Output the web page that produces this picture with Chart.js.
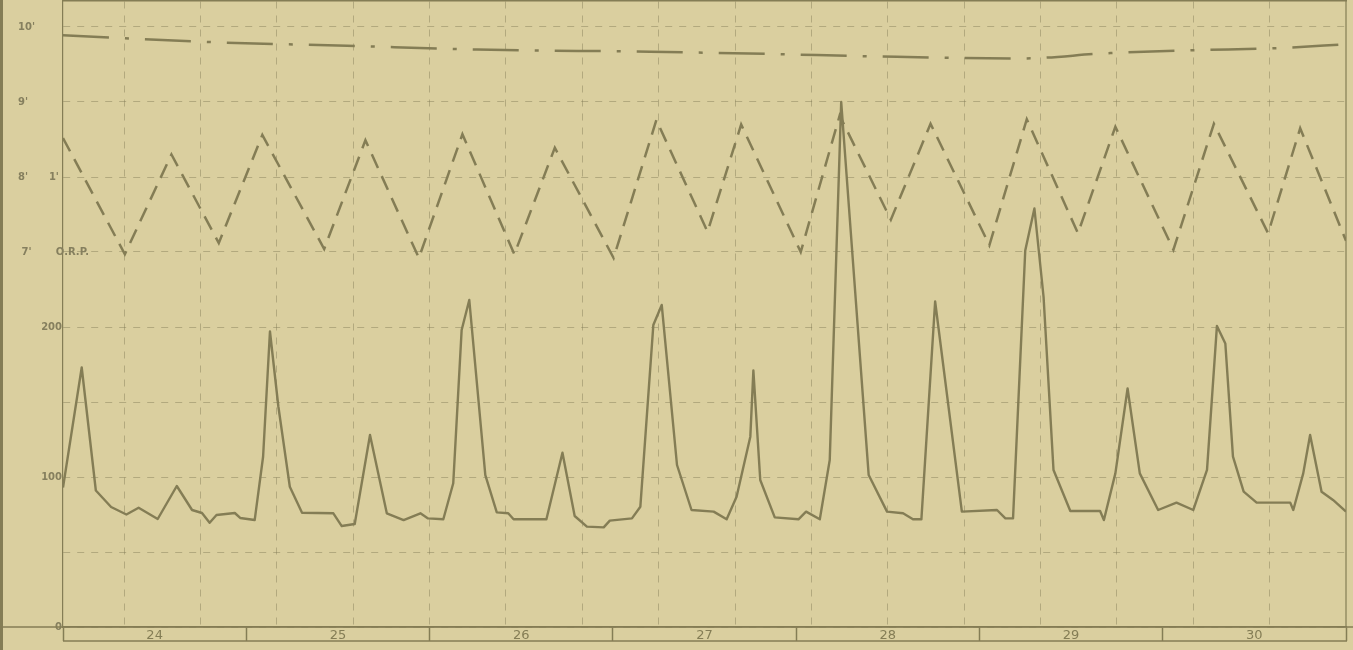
<!DOCTYPE html>
<html>
<head>
<meta charset="utf-8">
<script src="https://cdn.jsdelivr.net/npm/chart.js@4.4.1/dist/chart.umd.min.js"></script>
<style>
  html, body { margin: 0; padding: 0; background: #dacf9f; }
  #wrap { width: 1353px; height: 650px; }
</style>
</head>
<body>
<div id="wrap"><canvas id="c" width="1353" height="650"></canvas></div>
<script>
// ---- data ----
// x values: hours from the start of day 24
const dayLabels = ['24', '25', '26', '27', '28', '29', '30'];

const flowHours = [0,2.45,4.3,6.3,8.3,9.9,12.4,14.9,16.9,18.2,19.2,20.1,22.5,23.2,25.1,26.2,27.1,28.2,29.7,31.3,35.4,36.5,38.2,40.2,42.4,44.6,46.8,47.8,49.8,51.1,52.2,53.2,55.3,56.8,58.3,59.0,63.3,65.4,67.0,68.6,70.8,71.6,74.5,75.6,77.3,78.4,80.4,82.3,85.2,86.9,88.2,90.0,90.4,91.3,93.2,96.3,97.3,99.1,100.4,101.9,105.5,107.9,110.0,111.3,112.4,114.2,117.7,122.3,123.4,124.4,126.0,127.2,128.4,129.7,131.9,135.8,136.3,137.8,139.4,141.0,143.4,145.8,148.0,149.8,151.1,152.2,153.2,154.6,156.3,160.7,161.1,162.4,163.3,164.8,166.3,168];
const flowValues = [93,173,91,80,75,79.5,72,94,78,76,69.5,74.7,76,72.7,71.3,113.5,197,147,93.5,76.2,75.8,67.3,68.7,128,75.8,71.3,75.8,72.4,71.8,95.8,198,218,101.3,76.4,75.8,71.8,71.8,116.2,74,66.9,66.4,70.9,72.4,80.2,201.3,214.7,108,78,76.9,71.8,86.9,126.9,171,98,73.1,71.8,76.9,71.8,111.3,350,101.3,76.9,75.8,71.8,71.8,217,76.9,78,72.4,72.4,251,279,220,104.7,77.3,77.3,71.3,102.4,159,102.4,78,82.9,78,104.7,200.7,189,113.6,90.2,82.9,82.9,78,102.4,128,90.2,84.7,77];

const tideHours = [0,8.1,14.2,20.4,26.1,34.2,39.6,46.6,52.3,59.1,64.4,72.1,77.7,84.4,88.8,96.6,101.7,108.4,113.6,121.3,126.2,132.9,137.8,145.4,150.7,157.8,162.0,168];
const tideFeet  = [8.52,6.97,8.30,7.12,8.56,7.04,8.49,6.92,8.57,6.97,8.39,6.92,8.76,7.27,8.70,7.00,8.82,7.43,8.71,7.09,8.77,7.25,8.67,7.03,8.71,7.25,8.65,7.15];

const upperHours = [0,19.0,37.2,54.2,76.9,93.0,105.4,125.3,136.7,148.0,159.4,168];
const upperFeet  = [9.89,9.80,9.75,9.70,9.67,9.64,9.61,9.58,9.65,9.69,9.72,9.77];

const valueTickLabels = { 0: '0', 100: '100', 200: '200' };
const footTickLabels = { 7: " 7'       O.R.P.", 8: "8'      1'", 9: "9'", 10: "10'" };

// ---- styling ----
const INK = '#847d55';
const TEXT = '#857f5e';
const GRID = 'rgba(128,122,86,0.45)';
const PX_PER_UNIT = 1.5;         // vertical scale of the sheet
const AREA_H = 626;
const yMax = AREA_H / PX_PER_UNIT;
const ftMin = 2, ftPerUnit = 1 / 50;
const ftMax = ftMin + yMax * ftPerUnit;

const toXY = (xs, ys) => xs.map((x, i) => ({ x: x, y: ys[i] }));
const noPad = (s) => { s.paddingTop = 0; s.paddingBottom = 0; };

const paper = {
  id: 'paper',
  beforeDraw(chart) {
    const ctx = chart.ctx;
    ctx.save();
    ctx.fillStyle = '#dacf9f';
    ctx.fillRect(0, 0, chart.width, chart.height);
    ctx.restore();
  },
  afterDraw(chart) {
    const ctx = chart.ctx, a = chart.chartArea, xd = chart.scales.xd;
    ctx.save();
    ctx.strokeStyle = INK;
    // scan edge at left
    ctx.lineWidth = 3;
    ctx.beginPath(); ctx.moveTo(1.5, 0); ctx.lineTo(1.5, chart.height); ctx.stroke();
    // base line across the sheet
    ctx.lineWidth = 1.5;
    ctx.beginPath(); ctx.moveTo(0, a.bottom); ctx.lineTo(chart.width, a.bottom); ctx.stroke();
    // bottom of the day boxes
    ctx.beginPath(); ctx.moveTo(xd.left, a.bottom + 14); ctx.lineTo(xd.right + 1, a.bottom + 14); ctx.stroke();
    // right frame
    ctx.lineWidth = 1.2;
    ctx.beginPath(); ctx.moveTo(a.right, a.top); ctx.lineTo(a.right, a.bottom); ctx.stroke();
    ctx.restore();
  }
};

new Chart(document.getElementById('c'), {
  type: 'line',
  data: {
    datasets: [
      {
        data: toXY(flowHours, flowValues),
        xAxisID: 'x', yAxisID: 'y',
        borderColor: INK, borderWidth: 2.4, pointRadius: 0, tension: 0,
        borderJoinStyle: 'round'
      },
      {
        data: toXY(tideHours, tideFeet),
        xAxisID: 'x', yAxisID: 'yft',
        borderColor: INK, borderWidth: 2.5, pointRadius: 0, tension: 0,
        borderDash: [15, 9]
      },
      {
        data: toXY(upperHours, upperFeet),
        xAxisID: 'x', yAxisID: 'yft',
        borderColor: INK, borderWidth: 2.5, pointRadius: 0,
        cubicInterpolationMode: 'monotone',
        borderDash: [46, 16, 4, 16]
      }
    ]
  },
  options: {
    responsive: false,
    animation: false,
    devicePixelRatio: 1,
    layout: { padding: { left: 17, right: 7, top: 1, bottom: 0 } },
    plugins: { legend: { display: false }, tooltip: { enabled: false } },
    scales: {
      x: {
        type: 'linear', position: 'top', min: 0, max: 168,
        afterBuildTicks: (s) => {
          const t = [];
          for (let v = 8; v < 168; v += 10) t.push({ value: v });
          s.ticks = t;
        },
        afterFit: (s) => { s.height = 0; s.paddingLeft = 0; s.paddingRight = 0; },
        ticks: { display: false },
        grid: { color: GRID, lineWidth: 1, drawTicks: false },
        border: { display: true, color: INK, width: 1.5, dash: [7, 7] }
      },
      xd: {
        type: 'category', position: 'bottom', labels: dayLabels,
        offset: true,
        afterFit: (s) => { s.height = 23; s.paddingLeft = 0; s.paddingRight = 0; },
        grid: { offset: true, drawOnChartArea: false, drawTicks: true, tickLength: 14, tickColor: INK, tickWidth: 1.5, color: INK },
        border: { display: true, color: INK, width: 1.5 },
        ticks: { color: INK, padding: -13, maxRotation: 0, autoSkip: false, font: { family: 'DejaVu Sans', size: 13 } }
      },
      y: {
        type: 'linear', position: 'left', min: 0, max: yMax, weight: 0,
        afterFit: (s) => { s.width = 45; noPad(s); },
        ticks: {
          stepSize: 50, includeBounds: false, autoSkip: false, padding: 1,
          color: TEXT, font: { family: 'DejaVu Sans', size: 10, weight: 'bold' },
          callback: (v) => (valueTickLabels[v] !== undefined ? valueTickLabels[v] : '')
        },
        grid: { color: GRID, lineWidth: 1, drawTicks: false },
        border: { display: true, color: INK, width: 1.2, dash: [7, 7] }
      },
      yft: {
        type: 'linear', position: 'left', min: ftMin, max: ftMax, weight: 1,
        afterFit: (s) => { s.width = 1; noPad(s); },
        ticks: {
          stepSize: 1, includeBounds: false, autoSkip: false, mirror: true, padding: 0,
          color: TEXT, font: { family: 'DejaVu Sans', size: 10, weight: 'bold' },
          callback: (v) => (footTickLabels[v] !== undefined ? footTickLabels[v] : '')
        },
        grid: { display: false, drawTicks: false },
        border: { display: false }
      }
    }
  },
  plugins: [paper]
});
</script>
</body>
</html>
